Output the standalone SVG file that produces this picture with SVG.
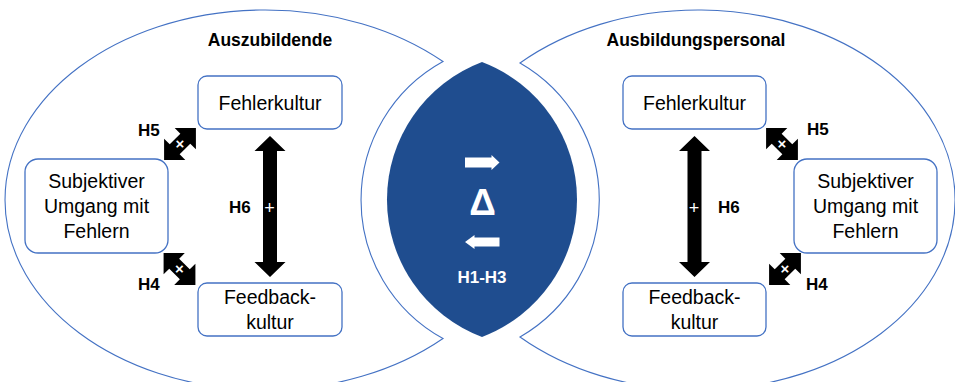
<svg xmlns="http://www.w3.org/2000/svg" width="955" height="382" viewBox="0 0 955 382">
<style>
.bg{fill:#fff}
.outer{fill:none;stroke:#4472C4;stroke-width:1.1}
.box{fill:#fff;stroke:#4472C4;stroke-width:1.3}
.t{font-family:"Liberation Sans",Arial,sans-serif;font-size:19.5px;fill:#000;text-anchor:middle}
.title{font-family:"Liberation Sans",Arial,sans-serif;font-size:17.5px;font-weight:bold;fill:#000;text-anchor:middle}
.h{font-family:"Liberation Sans",Arial,sans-serif;font-size:17px;font-weight:bold;fill:#000}
.w{font-family:"Liberation Sans",Arial,sans-serif;fill:#fff;text-anchor:middle}
.plus{font-size:18px}
.x{font-size:15px;font-weight:bold}
.arr{fill:#000}
.lens{fill:#1F4D8F}
</style>
<defs>
<path id="darr" d="M-22.5 0 L-7.5 -15 L-7.5 -7 L7.5 -7 L7.5 -15 L22.5 0 L7.5 15 L7.5 7 L-7.5 7 L-7.5 15 Z"/>
<path id="varr" d="M0 0 L15.5 15 L7 15 L7 126 L15.5 126 L0 141 L-15.5 126 L-7 126 L-7 15 L-15.5 15 Z"/>
</defs>
<rect class="bg" x="0" y="0" width="955" height="382"/>
<g id="group-left">
<path class="outer" d="M443 61.5 A260 190 0 1 0 443 338.5 A158 158 0 0 1 443 61.5 Z"/>
<text class="title" x="270" y="46">Auszubildende</text>
</g>
<g id="group-right">
<path class="outer" d="M520 63 A257 190 0 1 1 520 337 A158 158 0 0 0 520 63 Z"/>
<text class="title" x="696" y="46">Ausbildungspersonal</text>
</g>
<g id="lens">
<path class="lens" d="M482 62 A147 147 0 0 1 482 337 A147 147 0 0 1 482 62 Z"/>
<path fill="#fff" d="M465 157.5 L491.5 157.5 L491.5 155 L499.5 162.5 L491.5 170 L491.5 167.5 L465 167.5 Z"/>
<text class="w" x="482.5" y="215" font-size="37" font-weight="bold">Δ</text>
<path fill="#fff" d="M499.5 237.5 L474.5 237.5 L474.5 235 L465 242 L474.5 249 L474.5 246.5 L499.5 246.5 Z"/>
<text class="w" x="482" y="283" font-size="17" font-weight="bold">H1-H3</text>
</g>
<g id="l-fehlerkultur">
<rect class="box" x="198" y="76" width="144" height="53" rx="9"/>
<text class="t" x="270" y="109.5">Fehlerkultur</text>
</g>
<g id="l-subjektiv">
<rect class="box" x="25" y="159" width="143" height="94" rx="13"/>
<text class="t" x="96.5" y="188">Subjektiver</text>
<text class="t" x="96.5" y="213">Umgang mit</text>
<text class="t" x="96.5" y="238">Fehlern</text>
</g>
<g id="l-feedback">
<rect class="box" x="198" y="283" width="144" height="53" rx="9"/>
<text class="t" x="270" y="303.5">Feedback-</text>
<text class="t" x="270" y="328.5">kultur</text>
</g>
<g id="r-fehlerkultur">
<rect class="box" x="623" y="76" width="143" height="53" rx="9"/>
<text class="t" x="694.5" y="109.5">Fehlerkultur</text>
</g>
<g id="r-subjektiv">
<rect class="box" x="794" y="159" width="143" height="94" rx="13"/>
<text class="t" x="865.5" y="188">Subjektiver</text>
<text class="t" x="865.5" y="213">Umgang mit</text>
<text class="t" x="865.5" y="238">Fehlern</text>
</g>
<g id="r-feedback">
<rect class="box" x="623" y="283" width="143" height="53" rx="9"/>
<text class="t" x="694.5" y="303.5">Feedback-</text>
<text class="t" x="694.5" y="328.5">kultur</text>
</g>
<g id="connectors">
<use class="arr" href="#varr" transform="translate(270 136)"/>
<text class="w plus" x="269.5" y="213.5">+</text>
<text class="h" x="229" y="213">H6</text>
<use class="arr" href="#darr" transform="translate(180 144) rotate(-45)"/>
<text class="w x" x="180" y="149">×</text>
<text class="h" x="138" y="136">H5</text>
<use class="arr" href="#darr" transform="translate(179.5 269) rotate(45)"/>
<text class="w x" x="179.5" y="274">×</text>
<text class="h" x="138" y="290">H4</text>
<use class="arr" href="#varr" transform="translate(694.5 136)"/>
<text class="w plus" x="694" y="213.5">+</text>
<text class="h" x="718" y="213">H6</text>
<use class="arr" href="#darr" transform="translate(782 144) rotate(45)"/>
<text class="w x" x="782" y="149">×</text>
<text class="h" x="807" y="135">H5</text>
<use class="arr" href="#darr" transform="translate(785 269) rotate(-45)"/>
<text class="w x" x="785" y="274">×</text>
<text class="h" x="806" y="290">H4</text>
</g>
</svg>
